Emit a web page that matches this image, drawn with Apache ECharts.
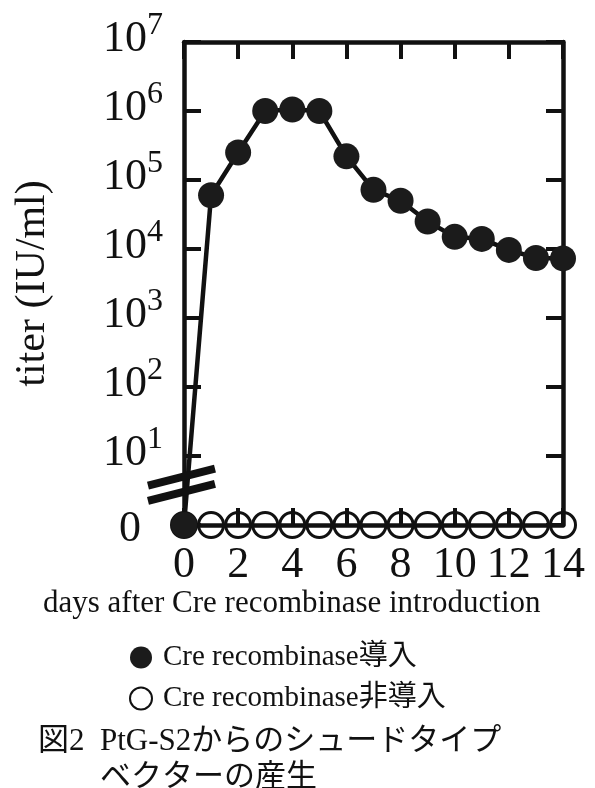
<!DOCTYPE html>
<html><head><meta charset="utf-8">
<script src="https://cdn.jsdelivr.net/npm/echarts@6/dist/echarts.min.js"></script>
<style>html,body{margin:0;padding:0;background:#fff}#c{width:595px;height:788px}</style>
</head><body><div id="c"></div>
<script>
// ---- data ----
const days = [0,1,2,3,4,5,6,7,8,9,10,11,12,13,14];
const creIntroduced = [0, 6.0e4, 2.5e5, 1.0e6, 1.05e6, 1.0e6, 2.2e5, 7.2e4, 5.0e4, 2.5e4, 1.5e4, 1.4e4, 9.7e3, 7.4e3, 7.3e3];
const creNotIntroduced = [0,0,0,0,0,0,0,0,0,0,0,0,0,0,0];
const xTicks = [0,2,4,6,8,10,12,14];
const yTickExponents = [0,1,2,3,4,5,6,7]; // 10^0 position is labelled "0" (axis break)
const seriesNames = ['Cre recombinase導入', 'Cre recombinase非導入'];
const xTitle = 'days after Cre recombinase introduction';
const yTitle = 'titer (IU/ml)';
const captionNo = '図2';
const captionLines = ['PtG-S2からのシュードタイプ', 'ベクターの産生'];

// ---- chart ----
const FLOOR = 1; // zero is drawn at the bottom of the broken log axis
const toPts = arr => days.map((d,i)=>[d, arr[i] > 0 ? arr[i] : FLOOR]);
const SERIF = '"Liberation Serif","Noto Sans CJK JP",serif';
const chart = echarts.init(document.getElementById('c'), null, {renderer:'canvas'});
const frame = {show:true, onZero:false, lineStyle:{color:'#111', width:4.5}};
const tick = {show:true, inside:true, length:17, lineStyle:{color:'#111', width:4}};
const yMin = Math.pow(10, yTickExponents[0]), yMax = Math.pow(10, yTickExponents[yTickExponents.length-1]);
const option = {
  animation:false,
  backgroundColor:'#fff',
  grid:{left:184, right:32, top:42, bottom:263, containLabel:false},
  xAxis:[
    {type:'value', position:'bottom', min:xTicks[0], max:xTicks[xTicks.length-1], interval:2,
     axisLine:frame, axisTick:tick, splitLine:{show:false},
     axisLabel:{margin:18, fontFamily:SERIF, fontSize:44, color:'#111'}},
    {type:'value', position:'top', min:xTicks[0], max:xTicks[xTicks.length-1], interval:2,
     axisLine:frame, axisTick:tick, splitLine:{show:false}, axisLabel:{show:false}}
  ],
  yAxis:[
    {type:'log', logBase:10, position:'left', min:yMin, max:yMax, splitNumber:7,
     axisLine:frame, axisTick:tick, splitLine:{show:false},
     name:yTitle, nameLocation:'middle', nameGap:130, nameRotate:90,
     nameTextStyle:{fontFamily:SERIF, fontSize:42, color:'#111'},
     axisLabel:{margin:21, color:'#111',
       formatter: v => { const e = Math.round(Math.log10(v)); return e===0 ? '{z|0}{w| }' : '{b|10}{s|'+e+'}'; },
       rich:{
         b:{fontFamily:SERIF, fontSize:44, lineHeight:38, verticalAlign:'bottom', color:'#111'},
         s:{fontFamily:SERIF, fontSize:32, lineHeight:38, height:6, verticalAlign:'top', color:'#111'},
         z:{fontFamily:SERIF, fontSize:44, lineHeight:52, verticalAlign:'bottom', color:'#111'},
         w:{fontFamily:SERIF, fontSize:10, lineHeight:10, width:22}
       }}},
    {type:'log', logBase:10, position:'right', min:yMin, max:yMax, splitNumber:7,
     axisLine:frame, axisTick:tick, splitLine:{show:false}, axisLabel:{show:false}}
  ],
  legend:{orient:'vertical', left:129, top:643, padding:0, itemWidth:22, itemHeight:22, itemGap:12,
    icon:'circle', selectedMode:false,
    textStyle:{fontFamily:SERIF, fontSize:29, color:'#111', padding:[0,0,0,6]},
    data:[seriesNames[0], seriesNames[1]]},
  series:[
    {name:seriesNames[1], type:'line', data:toPts(creNotIntroduced), z:3,
     symbol:'circle', symbolSize:25, showSymbol:true,
     lineStyle:{width:0, opacity:0},
     itemStyle:{color:'rgba(255,255,255,0)', borderColor:'#111', borderWidth:3}},
    {name:seriesNames[0], type:'line', data:toPts(creIntroduced), z:4,
     symbol:'circle', symbolSize:26,
     lineStyle:{width:4.5, color:'#111'},
     itemStyle:{color:'#1b1b1b', borderColor:'#1b1b1b', borderWidth:0}}
  ],
  graphic:[]
};
chart.setOption(option);

// axis-break marks and caption
const ax = chart.convertToPixel({xAxisIndex:0}, 0);
const yA = chart.convertToPixel({yAxisIndex:0}, Math.pow(10,0.70));
const yB = chart.convertToPixel({yAxisIndex:0}, Math.pow(10,0.48));
const brk = (yc) => ({type:'line', z:10, shape:{x1:ax-36, y1:yc+9, x2:ax+31, y2:yc-8},
  style:{stroke:'#111', lineWidth:8}});
chart.setOption({graphic:[
  brk(yA), brk(yB),
  {type:'text', left:43, top:588, style:{text:xTitle, font:'31px '+SERIF, fill:'#111'}},
  {type:'text', left:38, top:726, style:{text:captionNo, font:'31px '+SERIF, fill:'#111'}},
  {type:'text', left:100, top:726, style:{text:captionLines[0], font:'31px '+SERIF, fill:'#111'}},
  {type:'text', left:100, top:762, style:{text:captionLines[1], font:'31px '+SERIF, fill:'#111'}}
]});
</script></body></html>
